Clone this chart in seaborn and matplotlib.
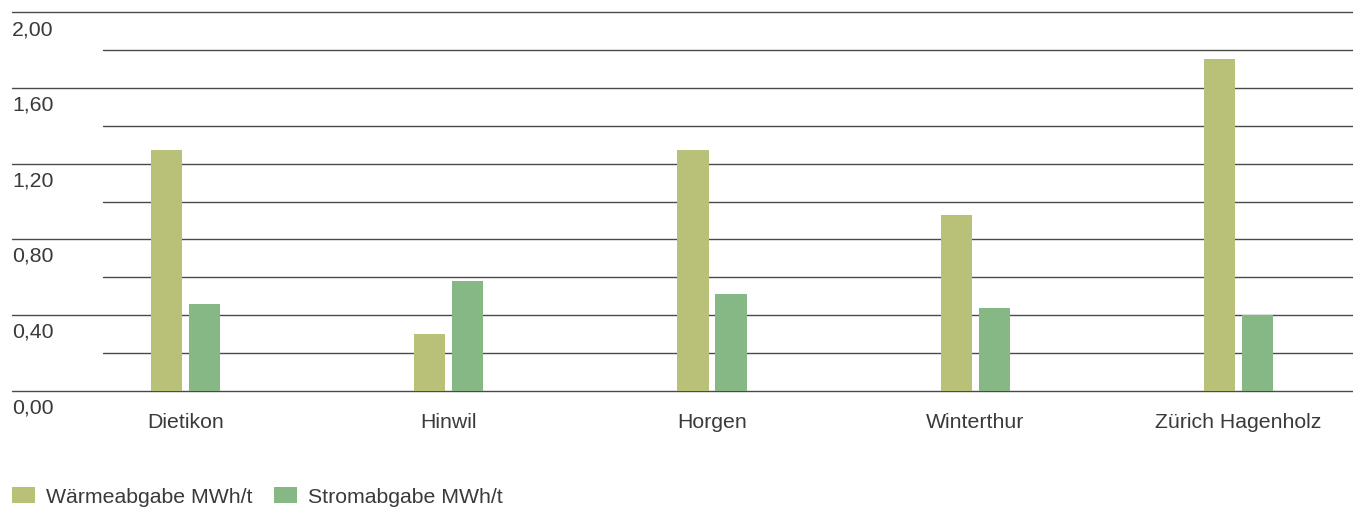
import matplotlib
matplotlib.use("Agg")
import matplotlib.pyplot as plt
import matplotlib.transforms as mtransforms
import seaborn as sns
import pandas as pd

# ---- data ----
anlagen = ["Dietikon", "Hinwil", "Horgen", "Winterthur", "Zürich Hagenholz"]
waerme = [1.27, 0.30, 1.27, 0.93, 1.75]
strom = [0.46, 0.58, 0.51, 0.44, 0.40]
serien = ["Wärmeabgabe MWh/t", "Stromabgabe MWh/t"]
farben = ["#b9c078", "#85b885"]
ytick_werte = [0.0, 0.4, 0.8, 1.2, 1.6, 2.0]
ytick_labels = ["0,00", "0,40", "0,80", "1,20", "1,60", "2,00"]
minor_werte = [0.2, 0.6, 1.0, 1.4, 1.8]

df = pd.DataFrame({
    "Anlage": anlagen * 2,
    "Wert": waerme + strom,
    "Typ": [serien[0]] * len(anlagen) + [serien[1]] * len(anlagen),
})

sns.set_theme(style="white")
plt.rcParams["font.family"] = ["Liberation Sans", "DejaVu Sans"]
TXT = "#3a3a3a"
FS = 15.3

W, H = 1353, 508
fig = plt.figure(figsize=(W / 100, H / 100), dpi=100)
ax = fig.add_axes([0, (H - 391) / H, 1, 379 / H])

sns.barplot(data=df, x="Anlage", y="Wert", hue="Typ", palette=farben,
            saturation=1, errorbar=None, width=0.2887, gap=0.184,
            linewidth=0, edgecolor="none", ax=ax, zorder=3)

c0, step = 185.5, 263.25
ax.set_xlim(-c0 / step, (W - c0) / step)
ax.set_ylim(0, 2.0)

for v in ytick_werte:
    ax.axhline(v, xmin=12 / W, xmax=1, color="#4a4a4a", lw=1.0, zorder=1, clip_on=False)
for v in minor_werte:
    ax.axhline(v, xmin=103 / W, xmax=1, color="#4a4a4a", lw=1.0, zorder=1, clip_on=False)

for s in ax.spines.values():
    s.set_visible(False)
ax.set_yticks([])
ax.set_xlabel("")
ax.set_ylabel("")
ax.tick_params(axis="x", length=0, pad=16, labelsize=FS, labelcolor=TXT)

# y labels below their grid lines
trans = mtransforms.blended_transform_factory(fig.transFigure, ax.transData)
for v, lab in zip(ytick_werte, ytick_labels):
    off = -17.5 if v > 1.0 else -16.5
    t = mtransforms.offset_copy(trans, fig=fig, x=0, y=off * 72 / 100, units="points")
    ax.text(12 / W, v, lab, transform=t, ha="left", va="center",
            fontsize=FS, color=TXT, clip_on=False)

sns.move_legend(ax, "center left", bbox_to_anchor=(12 / W, (H - 497) / H),
                bbox_transform=fig.transFigure, ncol=2, frameon=False, title=None,
                fontsize=FS, handlelength=1.09, handleheight=0.76,
                handletextpad=0.52, columnspacing=1.0, borderpad=0, borderaxespad=0)
for t in ax.get_legend().get_texts():
    t.set_color(TXT)

fig.savefig("out.png", dpi=100)
